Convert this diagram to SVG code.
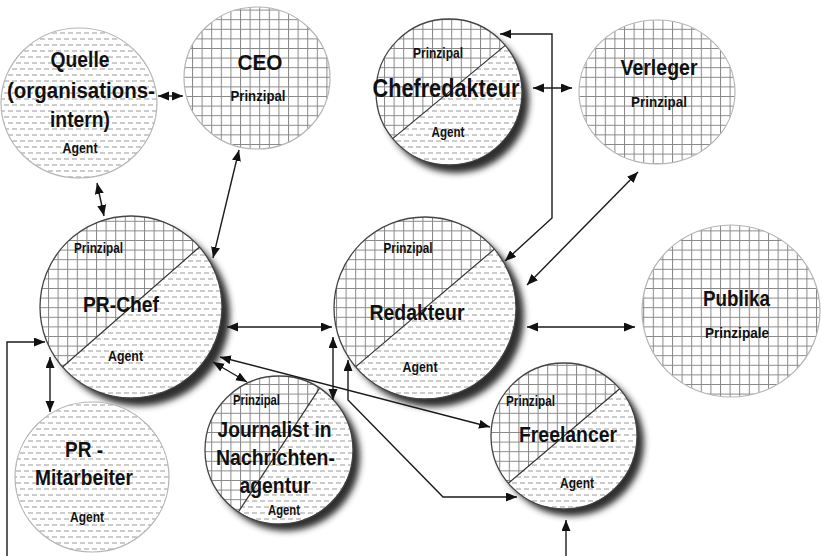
<svg xmlns="http://www.w3.org/2000/svg" width="822" height="556" viewBox="0 0 822 556">
<style>
text{font-family:"Liberation Sans Narrow","Liberation Sans",Arial,sans-serif;font-weight:bold;fill:#111;text-anchor:middle}
.b{font-size:22px}
.s{font-size:14px}
.c{font-size:26px}
.edge{fill:none;stroke:#1a1a1a;stroke-width:1.4}
.ring{fill:none;stroke:#444;stroke-width:1.3}
.pale{stroke:#b5b5b5;stroke-width:1.2}
.div{stroke:#333;stroke-width:1.2}
.shadow{fill:#2e2e2e;filter:url(#blur)}
</style>
<defs>
<pattern id="grid" width="9.6" height="9.6" patternUnits="userSpaceOnUse">
<rect width="9.6" height="9.6" fill="#fff"/>
<path d="M0 0.5H9.6M0.5 0V9.6" stroke="#888" stroke-width="1"/>
</pattern>
<pattern id="dash" width="8" height="12" patternUnits="userSpaceOnUse">
<rect width="8" height="12" fill="#fff"/>
<path d="M0 3H5M4 9H9M-4 9H1" stroke="#9a9a9a" stroke-width="1.2"/>
</pattern>
<filter id="blur" x="-20%" y="-20%" width="140%" height="140%"><feGaussianBlur stdDeviation="3"/></filter>
<marker id="ah" markerWidth="12" markerHeight="10" refX="11" refY="4.5" orient="auto-start-reverse" markerUnits="userSpaceOnUse">
<path d="M0 0L11 4.5L0 9Z" fill="#111"/>
</marker>
</defs>
<rect width="822" height="556" fill="#fff"/>

<g id="quelle">
<ellipse cx="79" cy="103" rx="78" ry="75" fill="url(#dash)" class="pale"/>
<text class="b" x="80" y="67" textLength="59" lengthAdjust="spacingAndGlyphs">Quelle</text>
<text class="b" x="81" y="98" textLength="148" lengthAdjust="spacingAndGlyphs">(organisations-</text>
<text class="b" x="80" y="127" textLength="60" lengthAdjust="spacingAndGlyphs">intern)</text>
<text class="s" x="80" y="153" textLength="35" lengthAdjust="spacingAndGlyphs">Agent</text>
</g>

<g id="ceo">
<ellipse cx="257" cy="78" rx="73" ry="71" fill="url(#grid)" class="pale"/>
<text class="b" x="260" y="70" textLength="45" lengthAdjust="spacingAndGlyphs">CEO</text>
<text class="s" x="258" y="101" textLength="55" lengthAdjust="spacingAndGlyphs">Prinzipal</text>
</g>

<g id="chefredakteur">
<circle class="shadow" cx="456" cy="100" r="73"/>
<circle cx="449" cy="92" r="73" fill="url(#dash)"/>
<path d="M505.3 45.4A73 73 0 0 0 392.7 138.6Z" fill="url(#grid)"/>
<line class="div" x1="505.3" y1="45.4" x2="392.7" y2="138.6"/>
<circle class="ring" cx="449" cy="92" r="73"/>
<text class="s" x="438" y="58" textLength="50" lengthAdjust="spacingAndGlyphs">Prinzipal</text>
<text class="c" x="446" y="97" textLength="147" lengthAdjust="spacingAndGlyphs">Chefredakteur</text>
<text class="s" x="448" y="137" textLength="33" lengthAdjust="spacingAndGlyphs">Agent</text>
</g>

<g id="verleger">
<ellipse cx="657" cy="92" rx="78" ry="72" fill="url(#grid)" class="pale"/>
<text class="b" x="659" y="75" textLength="77" lengthAdjust="spacingAndGlyphs">Verleger</text>
<text class="s" x="659" y="107" textLength="56" lengthAdjust="spacingAndGlyphs">Prinzipal</text>
</g>

<g id="prchef">
<circle class="shadow" cx="139" cy="315" r="91"/>
<circle cx="131" cy="307" r="91" fill="url(#dash)"/>
<path d="M199.5 247A91 91 0 0 0 62.5 367Z" fill="url(#grid)"/>
<line class="div" x1="199.5" y1="247" x2="62.5" y2="367"/>
<circle class="ring" cx="131" cy="307" r="91"/>
<text class="s" x="98.5" y="253" textLength="49" lengthAdjust="spacingAndGlyphs">Prinzipal</text>
<text class="b" x="121" y="312" textLength="76" lengthAdjust="spacingAndGlyphs">PR-Chef</text>
<text class="s" x="125.5" y="361" textLength="35" lengthAdjust="spacingAndGlyphs">Agent</text>
</g>

<g id="redakteur">
<circle class="shadow" cx="433" cy="316" r="91"/>
<circle cx="425" cy="308" r="91" fill="url(#dash)"/>
<path d="M494.4 249.1A91 91 0 0 0 355.6 366.9Z" fill="url(#grid)"/>
<line class="div" x1="494.4" y1="249.1" x2="355.6" y2="366.9"/>
<circle class="ring" cx="425" cy="308" r="91"/>
<text class="s" x="408" y="253" textLength="49" lengthAdjust="spacingAndGlyphs">Prinzipal</text>
<text class="b" x="417" y="320" textLength="95" lengthAdjust="spacingAndGlyphs">Redakteur</text>
<text class="s" x="420" y="372" textLength="35" lengthAdjust="spacingAndGlyphs">Agent</text>
</g>

<g id="publika">
<ellipse cx="731" cy="311" rx="89" ry="86" fill="url(#grid)" class="pale"/>
<text class="b" x="736.5" y="306" textLength="67" lengthAdjust="spacingAndGlyphs">Publika</text>
<text class="s" x="737" y="338" textLength="64" lengthAdjust="spacingAndGlyphs">Prinzipale</text>
</g>

<g id="prmitarbeiter">
<ellipse cx="92" cy="477" rx="77" ry="75" fill="url(#dash)" class="pale"/>
<text class="b" x="84" y="457" textLength="38" lengthAdjust="spacingAndGlyphs">PR -</text>
<text class="b" x="84" y="485" textLength="98" lengthAdjust="spacingAndGlyphs">Mitarbeiter</text>
<text class="s" x="87" y="522" textLength="34" lengthAdjust="spacingAndGlyphs">Agent</text>
</g>

<g id="journalist">
<circle class="shadow" cx="286" cy="457" r="74"/>
<circle cx="279" cy="450" r="74" fill="url(#dash)"/>
<path d="M319.6 388.1A74 74 0 0 0 238.4 511.9Z" fill="url(#grid)"/>
<line class="div" x1="319.6" y1="388.1" x2="238.4" y2="511.9"/>
<circle class="ring" cx="279" cy="450" r="74"/>
<text class="s" x="256.5" y="405" textLength="47" lengthAdjust="spacingAndGlyphs">Prinzipal</text>
<text class="b" x="274.5" y="437" textLength="114" lengthAdjust="spacingAndGlyphs">Journalist in</text>
<text class="b" x="275.5" y="465" textLength="119" lengthAdjust="spacingAndGlyphs">Nachrichten-</text>
<text class="b" x="275" y="493" textLength="71" lengthAdjust="spacingAndGlyphs">agentur</text>
<text class="s" x="284" y="515" textLength="32" lengthAdjust="spacingAndGlyphs">Agent</text>
</g>

<g id="freelancer">
<circle class="shadow" cx="571" cy="443" r="73"/>
<circle cx="564" cy="436" r="73" fill="url(#dash)"/>
<path d="M619.7 388.8A73 73 0 0 0 508.3 483.2Z" fill="url(#grid)"/>
<line class="div" x1="619.7" y1="388.8" x2="508.3" y2="483.2"/>
<circle class="ring" cx="564" cy="436" r="73"/>
<text class="s" x="530.5" y="406" textLength="49" lengthAdjust="spacingAndGlyphs">Prinzipal</text>
<text class="b" x="568" y="442" textLength="98" lengthAdjust="spacingAndGlyphs">Freelancer</text>
<text class="s" x="577" y="488" textLength="34" lengthAdjust="spacingAndGlyphs">Agent</text>
</g>

<g id="connectors">
<path class="edge" marker-start="url(#ah)" marker-end="url(#ah)" d="M158 96H183"/>
<path class="edge" marker-start="url(#ah)" marker-end="url(#ah)" d="M97 183L104 216"/>
<path class="edge" marker-start="url(#ah)" marker-end="url(#ah)" d="M239 150L213 258"/>
<path class="edge" marker-start="url(#ah)" marker-end="url(#ah)" d="M533 88H572"/>
<path class="edge" marker-start="url(#ah)" marker-end="url(#ah)" d="M500 34H552V218L505 261"/>
<path class="edge" marker-start="url(#ah)" marker-end="url(#ah)" d="M638 172L527 285"/>
<path class="edge" marker-start="url(#ah)" marker-end="url(#ah)" d="M527 327H635"/>
<path class="edge" marker-start="url(#ah)" marker-end="url(#ah)" d="M227 327H332"/>
<path class="edge" marker-start="url(#ah)" marker-end="url(#ah)" d="M213 362L247 382"/>
<path class="edge" marker-start="url(#ah)" marker-end="url(#ah)" d="M220 357L490 427"/>
<path class="edge" marker-start="url(#ah)" marker-end="url(#ah)" d="M333 337V400"/>
<path class="edge" marker-start="url(#ah)" marker-end="url(#ah)" d="M348 360V400L443 497H517"/>
<path class="edge" marker-start="url(#ah)" marker-end="url(#ah)" d="M50 357V412"/>
<path class="edge" marker-end="url(#ah)" d="M7 556V342H45"/>
<path class="edge" marker-end="url(#ah)" d="M566 556V520"/>
</g>
</svg>
